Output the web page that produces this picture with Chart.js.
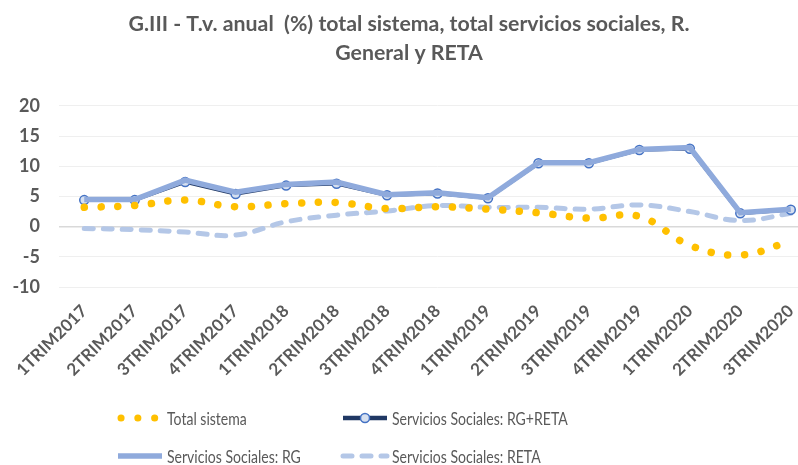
<!DOCTYPE html>
<html>
<head>
<meta charset="utf-8">
<script src="https://cdn.jsdelivr.net/npm/chart.js@4"></script>
<style>
  html, body { margin: 0; padding: 0; background: #fff; overflow: hidden; }
  #wrap { width: 798px; height: 465px; overflow: hidden; }
</style>
</head>
<body>
<div id="wrap"><canvas id="chart" width="822" height="465"></canvas></div>
<script>
// categories and series
const trimestres = ["1TRIM2017", "2TRIM2017", "3TRIM2017", "4TRIM2017", "1TRIM2018", "2TRIM2018", "3TRIM2018", "4TRIM2018",
                    "1TRIM2019", "2TRIM2019", "3TRIM2019", "4TRIM2019", "1TRIM2020", "2TRIM2020", "3TRIM2020"]
const totalSistema = [3.2, 3.5, 4.4, 3.3, 3.8, 4.0, 3.0, 3.3, 2.9, 2.3, 1.4, 1.7, -3.1, -4.7, -2.4]
const ssRgReta =     [4.4, 4.4, 7.4, 5.4, 6.8, 7.1, 5.2, 5.5, 4.7, 10.5, 10.5, 12.7, 12.9, 2.2, 2.8]
const ssRg =         [4.5, 4.5, 7.7, 5.7, 7.0, 7.4, 5.3, 5.6, 4.8, 10.6, 10.6, 12.8, 13.1, 2.3, 2.9]
const ssReta =       [-0.3, -0.5, -0.9, -1.4, 0.8, 1.9, 2.6, 3.5, 3.2, 3.2, 2.9, 3.6, 2.5, 1.0, 2.2]
const yTicks = { min: -10, max: 20, step: 5 }

const FONT = "Lato, 'Open Sans', sans-serif"
const GREY = "#595959"

// legend drawn by hand: two columns, two rows like the original
const legendPlugin = {
    id: "legendGrid",
    afterDraw(chart) {
        const ctx = chart.ctx
        const ds = chart.data.datasets
        const slots = [
            { x: 118, y: 418 }, { x: 343, y: 418 },
            { x: 118, y: 456 }, { x: 343, y: 456 }
        ]
        ctx.save()
        ds.forEach((d, i) => {
            const s = slots[i]
            const x0 = s.x, x1 = s.x + 44
            ctx.beginPath()
            ctx.strokeStyle = d.borderColor
            ctx.lineWidth = d.legendWidth || d.borderWidth
            ctx.lineCap = d.borderCapStyle || "butt"
            ctx.setLineDash(d.borderDash || [])
            ctx.moveTo(x0 + (d.legendShift || 0), s.y)
            ctx.lineTo(x1, s.y)
            ctx.stroke()
            ctx.setLineDash([])
            if (d.pointRadius) {
                ctx.beginPath()
                ctx.arc((x0 + x1) / 2, s.y, d.pointRadius, 0, Math.PI * 2)
                ctx.fillStyle = d.pointBackgroundColor
                ctx.fill()
                ctx.lineWidth = d.pointBorderWidth
                ctx.strokeStyle = d.pointBorderColor
                ctx.stroke()
            }
            // the original legend text is narrow, squeeze it a bit
            ctx.save()
            ctx.translate(x1 + 5, s.y + 1)
            ctx.scale(0.78, 1)
            ctx.fillStyle = GREY
            ctx.font = "18px " + FONT
            ctx.textBaseline = "middle"
            ctx.fillText(d.label, 0, 0)
            ctx.restore()
        })
        ctx.restore()
    }
}

const ctx = document.getElementById("chart").getContext("2d")
const myChart = new Chart(ctx, {
    type: "line",
    data: {
        labels: trimestres,
        datasets: [{
            label: "Total sistema",
            data: totalSistema,
            borderColor: "#FFC000",
            borderWidth: 7.5,
            borderCapStyle: "round",
            borderDash: [0.1, 16.7],
            tension: 0.4,
            pointRadius: 0,
            order: 0,
            legendShift: 3,
            legendWidth: 7
        }, {
            label: "Servicios Sociales: RG+RETA",
            data: ssRgReta,
            borderColor: "#203864",
            borderWidth: 3.5,
            tension: 0,
            pointRadius: 4.5,
            pointBackgroundColor: "#D6E0F0",
            pointBorderColor: "#4472C4",
            pointBorderWidth: 1.5,
            order: 2,
            legendWidth: 4.5
        }, {
            label: "Servicios Sociales: RG",
            data: ssRg,
            borderColor: "#8FAADC",
            borderWidth: 5.5,
            tension: 0,
            pointRadius: 0,
            order: 1
        }, {
            label: "Servicios Sociales: RETA",
            data: ssReta,
            borderColor: "#B4C7E7",
            borderWidth: 5,
            borderCapStyle: "round",
            borderDash: [9, 10],
            tension: 0.4,
            pointRadius: 0,
            order: 3
        }]
    },
    options: {
        responsive: false,
        animation: false,
        layout: { padding: { left: 0, right: 4, top: 0, bottom: 0 } },
        plugins: {
            legend: { display: false },
            tooltip: { enabled: false },
            title: {
                display: true,
                text: ["G.III - T.v. anual  (%) total sistema, total servicios sociales, R.", "General y RETA"],
                color: GREY,
                font: { family: FONT, size: 21.3, weight: "bold", lineHeight: 1.36 },
                padding: { top: 10, bottom: 38 }
            }
        },
        scales: {
            x: {
                offset: true,
                grid: { display: false },
                border: { display: false },
                ticks: {
                    color: GREY,
                    font: { family: FONT, size: 17, weight: "bold" },
                    maxRotation: 45, minRotation: 45,
                    padding: 6
                },
                afterFit: (s) => { s.height = 178 }
            },
            y: {
                min: yTicks.min, max: yTicks.max,
                border: { display: false },
                grid: {
                    drawTicks: false,
                    color: (c) => c.tick && c.tick.value === 0 ? "#D9D9D9" : "#EFEFEF",
                    lineWidth: (c) => c.tick && c.tick.value === 0 ? 1.5 : 1
                },
                ticks: {
                    stepSize: yTicks.step,
                    color: GREY,
                    font: { family: FONT, size: 18, weight: "bold" },
                    padding: 19
                },
                afterFit: (s) => { s.width = 59 }
            }
        }
    },
    plugins: [legendPlugin]
})
</script>
</body>
</html>
